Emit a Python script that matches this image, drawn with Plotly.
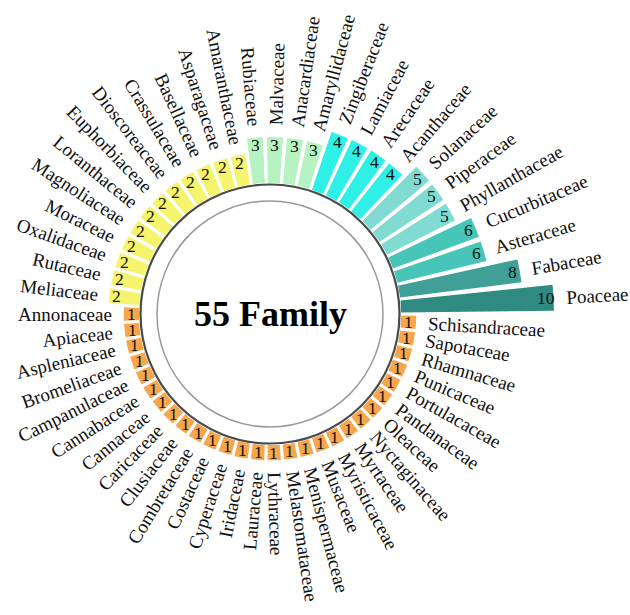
import math
import plotly.graph_objects as go

# ---------------- data ----------------
families = [
    "Poaceae", "Fabaceae", "Asteraceae", "Cucurbitaceae", "Phyllanthaceae",
    "Piperaceae", "Solanaceae", "Acanthaceae", "Arecaceae", "Lamiaceae",
    "Zingiberaceae", "Amaryllidaceae", "Anacardiaceae", "Malvaceae", "Rubiaceae",
    "Amaranthaceae", "Asparagaceae", "Basellaceae", "Crassulaceae", "Dioscoreaceae",
    "Euphorbiaceae", "Loranthaceae", "Magnoliaceae", "Moraceae", "Oxalidaceae",
    "Rutaceae", "Meliaceae",
    "Annonaceae", "Apiaceae", "Aspleniaceae", "Bromeliaceae", "Campanulaceae",
    "Cannabaceae", "Cannaceae", "Caricaceae", "Clusiaceae", "Combretaceae",
    "Costaceae", "Cyperaceae", "Iridaceae", "Lauraceae", "Lythraceae",
    "Melastomataceae", "Menispermaceae", "Musaceae", "Myristicaceae", "Myrtaceae",
    "Nyctaginaceae", "Oleaceae", "Pandanaceae", "Portulacaceae", "Punicaceae",
    "Rhamnaceae", "Sapotaceae", "Schisandraceae",
]
counts = [
    10, 8, 6, 6, 5, 5, 5, 4, 4, 4, 4, 3, 3, 3, 3,
    2, 2, 2, 2, 2, 2, 2, 2, 2, 2, 2, 2,
    1, 1, 1, 1, 1, 1, 1, 1, 1, 1, 1, 1, 1, 1, 1,
    1, 1, 1, 1, 1, 1, 1, 1, 1, 1, 1, 1, 1,
]
center_title = "55 Family"

# ---------------- style ----------------
color_by_value = {
    1: "#f6a64c", 2: "#f6f36c", 3: "#b6f2c2", 4: "#2ff0e6",
    5: "#80dcd3", 6: "#48c5b9", 8: "#409f96", 10: "#2f8b81",
}
W, H = 630, 615
CX, CY = 270, 314          # polar centre in figure px (from left / top)
HOLE_PX = 131              # inner hole radius (px)
PX_PER_UNIT = 15.3
N = len(families)
STEP = 360.0 / N
ROT = STEP / 2
FONT = "Liberation Serif"

angles = [ROT + i * STEP for i in range(N)]
is_left = [90 < a < 270 for a in angles]

# two half-disc subplots sharing one centre (right half needs a long radius)
halves = [
    ("polar", [-92, 92], 290, False),
    ("polar2", [88, 272], 185, True),
]

fig = go.Figure()
layout_polars = {}
for pid, sector, Rh, left_side in halves:
    idx = [i for i in range(N) if is_left[i] == left_side]
    fig.add_trace(go.Barpolar(
        r=[counts[i] for i in idx],
        theta=[angles[i] for i in idx],
        width=[STEP * 0.8] * len(idx),
        marker=dict(color=[color_by_value[counts[i]] for i in idx], line=dict(width=0)),
        text=[families[i] for i in idx], hoverinfo="text",
        showlegend=False, subplot=pid,
    ))
    edge = abs(math.cos(math.radians(sector[0])))
    bx0, bx1 = (-1.0, edge) if left_side else (-edge, 1.0)
    rmax = (Rh - HOLE_PX) / PX_PER_UNIT
    layout_polars[pid] = dict(
        domain=dict(x=[(CX + Rh * bx0) / W, (CX + Rh * bx1) / W],
                    y=[(H - CY - Rh) / H, (H - CY + Rh) / H]),
        sector=sector, hole=HOLE_PX / Rh, bgcolor="rgba(0,0,0,0)",
        radialaxis=dict(range=[0, rmax], visible=False, showgrid=False),
        angularaxis=dict(rotation=0, direction="counterclockwise", showgrid=False,
                         showline=False, showticklabels=False, ticks=""),
    )


def radius_px(v):
    return HOLE_PX + v * PX_PER_UNIT


def to_paper(rpx, deg):
    a = math.radians(deg)
    px = CX + rpx * math.cos(a)
    py = CY - rpx * math.sin(a)
    return px / W, 1 - py / H


def hidden(s):
    return "<span style='color:rgba(0,0,0,0)'>" + s + "</span>"


annotations = []
for i, (name, v) in enumerate(zip(families, counts)):
    deg = angles[i]
    left = is_left[i]
    ta = (180 - deg) if left else -deg
    while ta > 180:
        ta -= 360
    while ta <= -180:
        ta += 360
    rend = radius_px(v)
    # family label (radial)
    x, y = to_paper(rend + 12, deg)
    txt = (name + hidden(name)) if left else (hidden(name) + name)
    annotations.append(dict(x=x, y=y, xref="paper", yref="paper", text=txt,
                            textangle=ta, showarrow=False, xanchor="center",
                            yanchor="middle", font=dict(family=FONT, size=19, color="#111")))
    # value label (upright, inside the bar end)
    x, y = to_paper(rend - 7.5, deg)
    annotations.append(dict(x=x, y=y, xref="paper", yref="paper", text=str(v),
                            showarrow=False, xanchor="center", yanchor="middle",
                            font=dict(family=FONT, size=17.5, color="#111")))

annotations.append(dict(x=CX / W, y=1 - CY / H, xref="paper", yref="paper",
                        text="<b>" + center_title + "</b>", showarrow=False,
                        font=dict(family=FONT, size=36, color="#000")))

shapes = []
for rc, col, lw in [(129.5, "#4a4a4a", 2.2), (113, "#9a9a9a", 1.5)]:
    shapes.append(dict(type="circle", xref="paper", yref="paper",
                       x0=(CX - rc) / W, x1=(CX + rc) / W,
                       y0=1 - (CY + rc) / H, y1=1 - (CY - rc) / H,
                       line=dict(color=col, width=lw)))

fig.update_layout(
    width=W, height=H, margin=dict(l=0, r=0, t=0, b=0),
    paper_bgcolor="white", plot_bgcolor="white",
    annotations=annotations, shapes=shapes,
    **layout_polars,
)

fig.write_html("out.html", config={"displayModeBar": False},
               post_script="document.body.style.margin='0px';")
